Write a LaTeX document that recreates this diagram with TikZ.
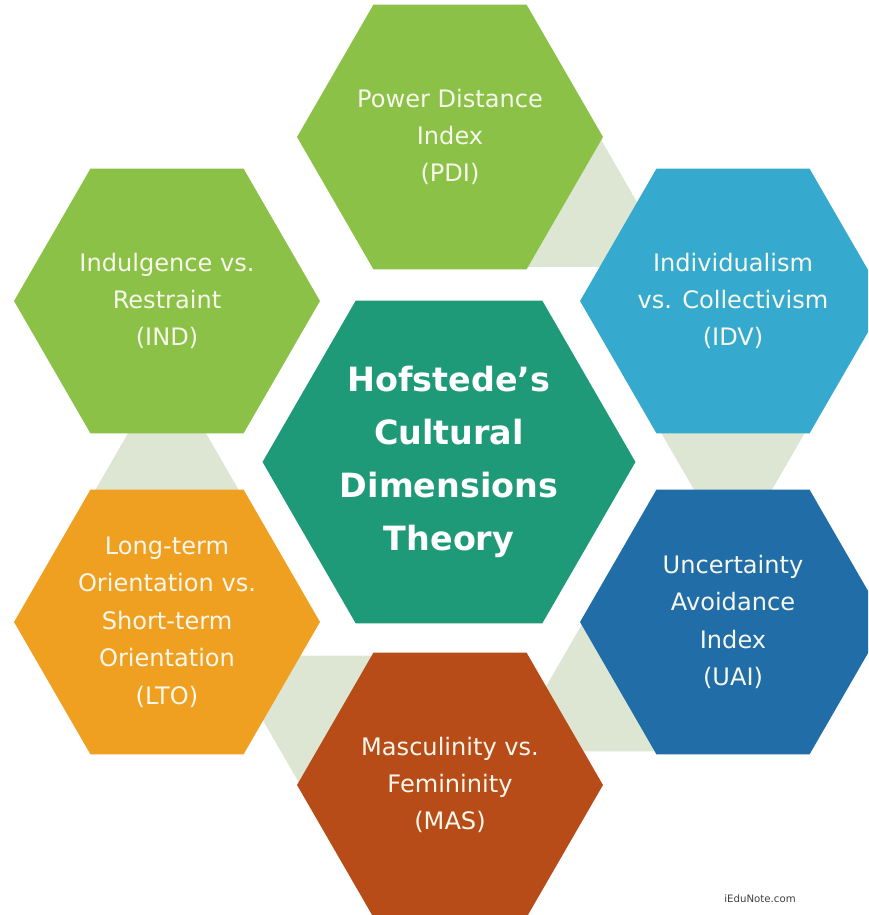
\documentclass[tikz,border=0pt]{standalone}
\usepackage{fontspec}
\setmainfont{DejaVu Sans}
\usetikzlibrary{shapes.geometric,calc}
\definecolor{cgreen}{HTML}{8BC147}
\definecolor{cblue}{HTML}{36AACE}
\definecolor{cteal}{HTML}{1F9A78}
\definecolor{cdblue}{HTML}{206DA8}
\definecolor{corange}{HTML}{F0A020}
\definecolor{crust}{HTML}{B84C18}
\definecolor{clight}{HTML}{DCE6D2}
\definecolor{ctxt}{HTML}{F7F7EC}
\begin{document}
\begin{tikzpicture}[x=0.02cm,y=-0.02cm,
  hexa/.style={regular polygon, regular polygon sides=6, minimum size=6.12cm, inner sep=0pt, outer sep=0pt, draw=none},
  bighexa/.style={hexa, minimum size=7.46cm},
  lbl/.style={text=ctxt, align=center, inner sep=0pt, font=\fontsize{13.7}{21.3}\selectfont},
  ttl/.style={text=white, align=center, inner sep=0pt, font=\fontsize{19}{30.3}\selectfont\bfseries},
  tri/.style={regular polygon, regular polygon sides=3, minimum size=3.83cm, inner sep=0pt, outer sep=0pt, fill=clight, draw=none},
  tridown/.style={tri, shape border rotate=180}]
\useasboundingbox (0,0) rectangle (868,915);
\clip (0,0) rectangle (868,915);
\fill[white] (0,0) rectangle (868,915);
\coordinate (cpdi) at (450,137);
\coordinate (cidv) at (733,301);
\coordinate (cuai) at (733,622);
\coordinate (cmas) at (450,785);
\coordinate (clto) at (167,622);
\coordinate (cind) at (167,301);
\coordinate (cctr) at (449,462);
% light connectors
\node[tri] (t1) at ($(cpdi)!0.5!(cidv)$) {};
\node[tridown] (t2) at ($(cidv)!0.5!(cuai)$) {};
\node[tri] (t3) at ($(cuai)!0.5!(cmas)$) {};
\node[tridown] (t4) at ($(cmas)!0.5!(clto)$) {};
\node[tri] (t5) at ($(clto)!0.5!(cind)$) {};
% hexagons
\node[hexa, fill=cgreen, label={[lbl]center:{Power Distance\\Index\\(PDI)}}] (pdi) at (cpdi) {};
\node[hexa, fill=cblue, label={[lbl]center:{Individualism\\vs. Collectivism\\(IDV)}}] (idv) at (cidv) {};
\node[hexa, fill=cdblue, label={[lbl]center:{Uncertainty\\Avoidance\\Index\\(UAI)}}] (uai) at (cuai) {};
\node[hexa, fill=crust, label={[lbl]center:{Masculinity vs.\\Femininity\\(MAS)}}] (mas) at (cmas) {};
\node[hexa, fill=corange, label={[lbl]center:{Long-term\\Orientation vs.\\Short-term\\Orientation\\(LTO)}}] (lto) at (clto) {};
\node[hexa, fill=cgreen, label={[lbl]center:{Indulgence vs.\\Restraint\\(IND)}}] (ind) at (cind) {};
\node[bighexa, fill=cteal, label={[ttl]center:{Hofstede’s\\Cultural\\Dimensions\\Theory}}] (ctr) at (cctr) {};
\node[anchor=west, inner sep=0pt, text=black!75, font=\fontsize{5.8}{7}\selectfont] (wm) at (724,899) {iEduNote.com};
\end{tikzpicture}
\end{document}
